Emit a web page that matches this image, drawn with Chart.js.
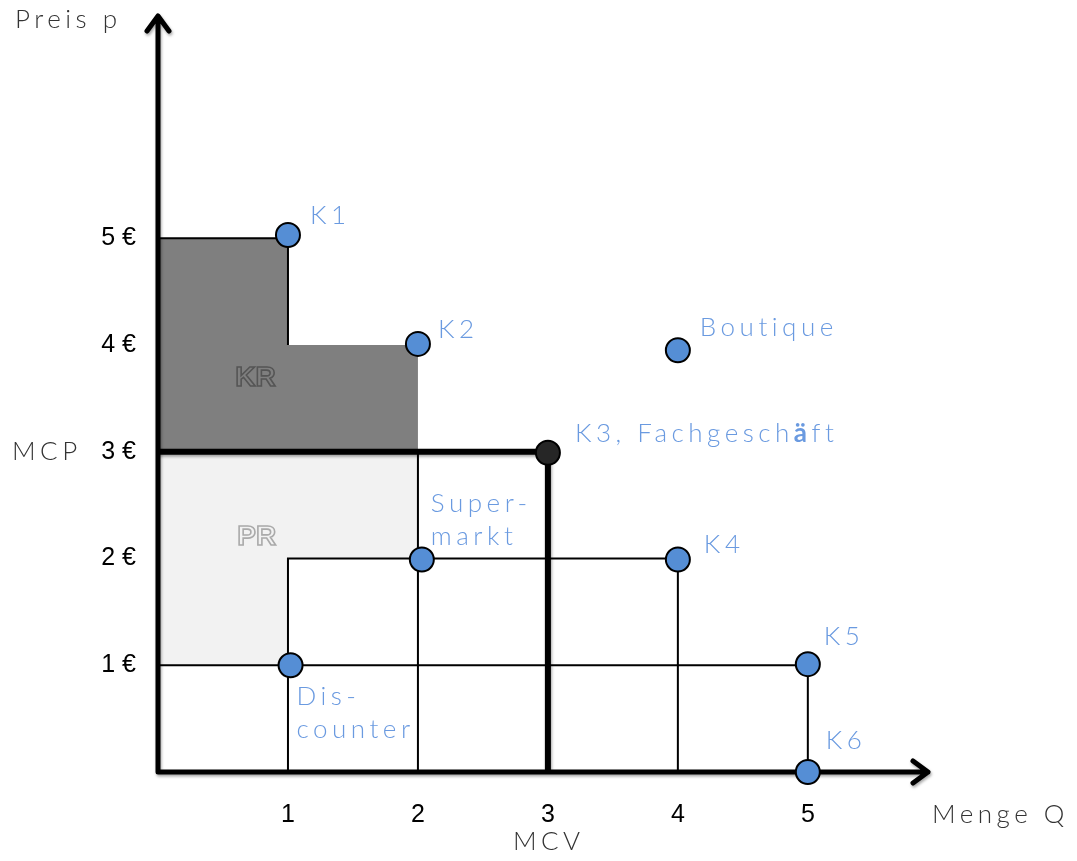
<!DOCTYPE html>
<html>
<head>
<meta charset="utf-8">
<script src="https://cdn.jsdelivr.net/npm/chart.js@4/dist/chart.umd.min.js"></script>
<style>
  body { margin: 0; background: #fff; }
  canvas { display: block; }
</style>
</head>
<body>
<canvas id="chart" width="1077" height="861"></canvas>
<script>
// customers: quantity Q and price p
const pointNames = ['K1', 'K2', 'K3, Fachgeschäft', 'Boutique', 'Super-|markt', 'K4', 'Dis-|counter', 'K5', 'K6'];
const pointQ = [1.0, 2.0, 3.0, 4.0, 2.03, 4.0, 1.02, 5.0, 5.0];
const pointP = [5.03, 4.01, 2.99, 3.95, 1.99, 1.99, 1.0, 1.01, 0];

// shaded areas (KR = Konsumentenrente, PR = Produzentenrente)
const krQ = [0, 1, 1, 2, 2, 0];
const krP = [5, 5, 4, 4, 3, 3];
const prQ = [0, 2, 2, 1, 1, 0];
const prP = [3, 3, 2, 2, 1, 1];

// market clearing line (MCP / MCV)
const mcQ = [0, 3, 3];
const mcP = [3, 3, 0];

// thin step lines
const stepLines = [
    [[0, 5], [1, 5], [1, 4]],
    [[0, 1], [5, 1], [5, 0]],
    [[1, 0], [1, 2], [4, 2], [4, 0]],
    [[2, 3], [2, 0]]
];

const xTicks = [1, 2, 3, 4, 5];
const yTicks = [1, 2, 3, 4, 5];

function toXY(qs, ps) {
    return qs.map((q, i) => ({ x: q, y: ps[i] }));
}

const datasets = [];

datasets.push({
    data: toXY(pointQ, pointP),
    pointRadius: 12,
    pointBackgroundColor: pointNames.map(n => n.startsWith('K3') ? '#262626' : '#558ed5'),
    pointBorderColor: '#000',
    pointBorderWidth: 2,
    showLine: false,
    clip: false,
    order: 0
});

datasets.push({
    data: toXY(mcQ, mcP),
    showLine: true,
    borderColor: '#000',
    borderWidth: 6,
    pointRadius: 0,
    fill: false,
    shadow: true,
    order: 1
});

stepLines.forEach(seg => {
    datasets.push({
        data: seg.map(pt => ({ x: pt[0], y: pt[1] })),
        showLine: true,
        borderColor: '#000',
        borderWidth: 2,
        pointRadius: 0,
        fill: false,
        order: 2
    });
});

datasets.push({
    data: toXY(prQ, prP),
    showLine: true,
    borderWidth: 0,
    borderColor: 'rgba(0,0,0,0)',
    backgroundColor: '#f2f2f2',
    pointRadius: 0,
    fill: 'shape',
    order: 3
});

datasets.push({
    data: toXY(krQ, krP),
    showLine: true,
    borderWidth: 0,
    borderColor: 'rgba(0,0,0,0)',
    backgroundColor: '#7f7f7f',
    pointRadius: 0,
    fill: 'shape',
    order: 4
});

const labelFont = '300 26px Lato, "Open Sans", sans-serif';
const labelColor = '#6a9ae0';
const spacing = 4.5;

// offsets of the point labels from their point, in pixels
const labelOffsets = [
    [22, -19], [20, -14], [27, -19], [22, -23], [9, -56], [26, -15], [6, 31], [16, -28], [18, -31]
];

function spacedText(ctx, text, x, y, sp) {
    ctx.letterSpacing = sp + 'px';
    ctx.fillText(text, x, y);
    const w = ctx.measureText(text).width;
    ctx.letterSpacing = '0px';
    return w;
}

function setShadow(ctx) {
    ctx.shadowColor = 'rgba(0,0,0,0.35)';
    ctx.shadowBlur = 3;
    ctx.shadowOffsetX = 1;
    ctx.shadowOffsetY = 2;
}

const decorPlugin = {
    id: 'decor',
    beforeDatasetsDraw(chart) {
        // axes with arrow heads, under the points
        const ctx = chart.ctx;
        const xs = chart.scales.x, ys = chart.scales.y;
        const area = chart.chartArea;
        const x0 = xs.getPixelForValue(0), y0 = ys.getPixelForValue(0);
        ctx.save();
        setShadow(ctx);
        ctx.strokeStyle = '#000';
        ctx.lineWidth = 5;
        ctx.lineCap = 'round';
        ctx.lineJoin = 'round';
        ctx.beginPath();
        ctx.moveTo(x0 - 11, area.top + 17);
        ctx.lineTo(x0, area.top + 2);
        ctx.lineTo(x0 + 11, area.top + 17);
        ctx.moveTo(x0, area.top + 2);
        ctx.lineTo(x0, y0);
        ctx.lineTo(area.right - 2, y0);
        ctx.moveTo(area.right - 17, y0 - 11);
        ctx.lineTo(area.right - 2, y0);
        ctx.lineTo(area.right - 17, y0 + 11);
        ctx.stroke();
        ctx.restore();
    },
    beforeDatasetDraw(chart, args) {
        if (args.meta._dataset.shadow) {
            chart.ctx.save();
            setShadow(chart.ctx);
        }
    },
    afterDatasetDraw(chart, args) {
        if (args.meta._dataset.shadow) {
            chart.ctx.restore();
        }
    },
    afterDatasetsDraw(chart) {
        const ctx = chart.ctx;
        const xs = chart.scales.x, ys = chart.scales.y;
        ctx.save();

        // area labels
        ctx.font = 'bold 28px "Liberation Sans", Arial, sans-serif';
        ctx.textAlign = 'center';
        ctx.textBaseline = 'middle';
        ctx.lineWidth = 1.6;
        ctx.strokeStyle = '#555';
        ctx.strokeText('KR', xs.getPixelForValue(0.75), ys.getPixelForValue(3.69));
        ctx.strokeStyle = '#aaa';
        ctx.strokeText('PR', xs.getPixelForValue(0.76), ys.getPixelForValue(2.2));

        // point labels
        const meta = chart.getDatasetMeta(0);
        ctx.font = labelFont;
        ctx.fillStyle = labelColor;
        ctx.textAlign = 'left';
        meta.data.forEach((pt, i) => {
            const lines = pointNames[i].split('|');
            const [dx, dy] = labelOffsets[i];
            lines.forEach((line, j) => {
                const x = pt.x + dx, y = pt.y + dy + j * 33;
                if (line.includes('ä')) {
                    const parts = line.split('ä');
                    let w = spacedText(ctx, parts[0], x, y, spacing);
                    ctx.font = 'bold 26px Lato, "Open Sans", sans-serif';
                    w += spacedText(ctx, 'ä', x + w, y, spacing);
                    ctx.font = labelFont;
                    spacedText(ctx, parts[1], x + w, y, spacing);
                } else {
                    spacedText(ctx, line, x, y, spacing);
                }
            });
        });

        // axis titles
        ctx.fillStyle = '#333';
        ctx.font = labelFont;
        spacedText(ctx, 'Preis p', 15, 20, spacing);
        spacedText(ctx, 'Menge Q', 932, 815, spacing);
        spacedText(ctx, 'MCP', 12, ys.getPixelForValue(3), spacing);
        spacedText(ctx, 'MCV', xs.getPixelForValue(3) - 35, 842, spacing);
        ctx.restore();
    }
};

const tickFont = { family: '"Liberation Sans", Arial, sans-serif', size: 25 };

new Chart(document.getElementById('chart'), {
    type: 'scatter',
    data: { datasets: datasets },
    options: {
        responsive: false,
        animation: false,
        layout: { padding: { top: 10, right: 147, left: 0, bottom: 0 } },
        plugins: {
            legend: { display: false },
            tooltip: { enabled: false },
            filler: { drawTime: 'beforeDraw' }
        },
        scales: {
            x: {
                type: 'linear',
                min: 0,
                max: 5.94,
                grid: { display: false, drawTicks: false },
                border: { display: false },
                ticks: {
                    stepSize: 1,
                    autoSkip: false,
                    color: '#000',
                    font: tickFont,
                    padding: 28,
                    maxRotation: 0,
                    callback: v => xTicks.includes(v) ? String(v) : ''
                },
                afterFit: s => { s.height = 89; s.paddingLeft = 0; s.paddingRight = 0; }
            },
            y: {
                type: 'linear',
                min: 0,
                max: 7.1,
                grid: { display: false, drawTicks: false },
                border: { display: false },
                ticks: {
                    stepSize: 1,
                    autoSkip: false,
                    color: '#000',
                    font: tickFont,
                    padding: 22,
                    callback: v => yTicks.includes(v) ? v + ' €' : ''
                },
                afterFit: s => { s.width = 158; s.paddingTop = 0; s.paddingBottom = 0; }
            }
        }
    },
    plugins: [decorPlugin]
});
</script>
</body>
</html>
